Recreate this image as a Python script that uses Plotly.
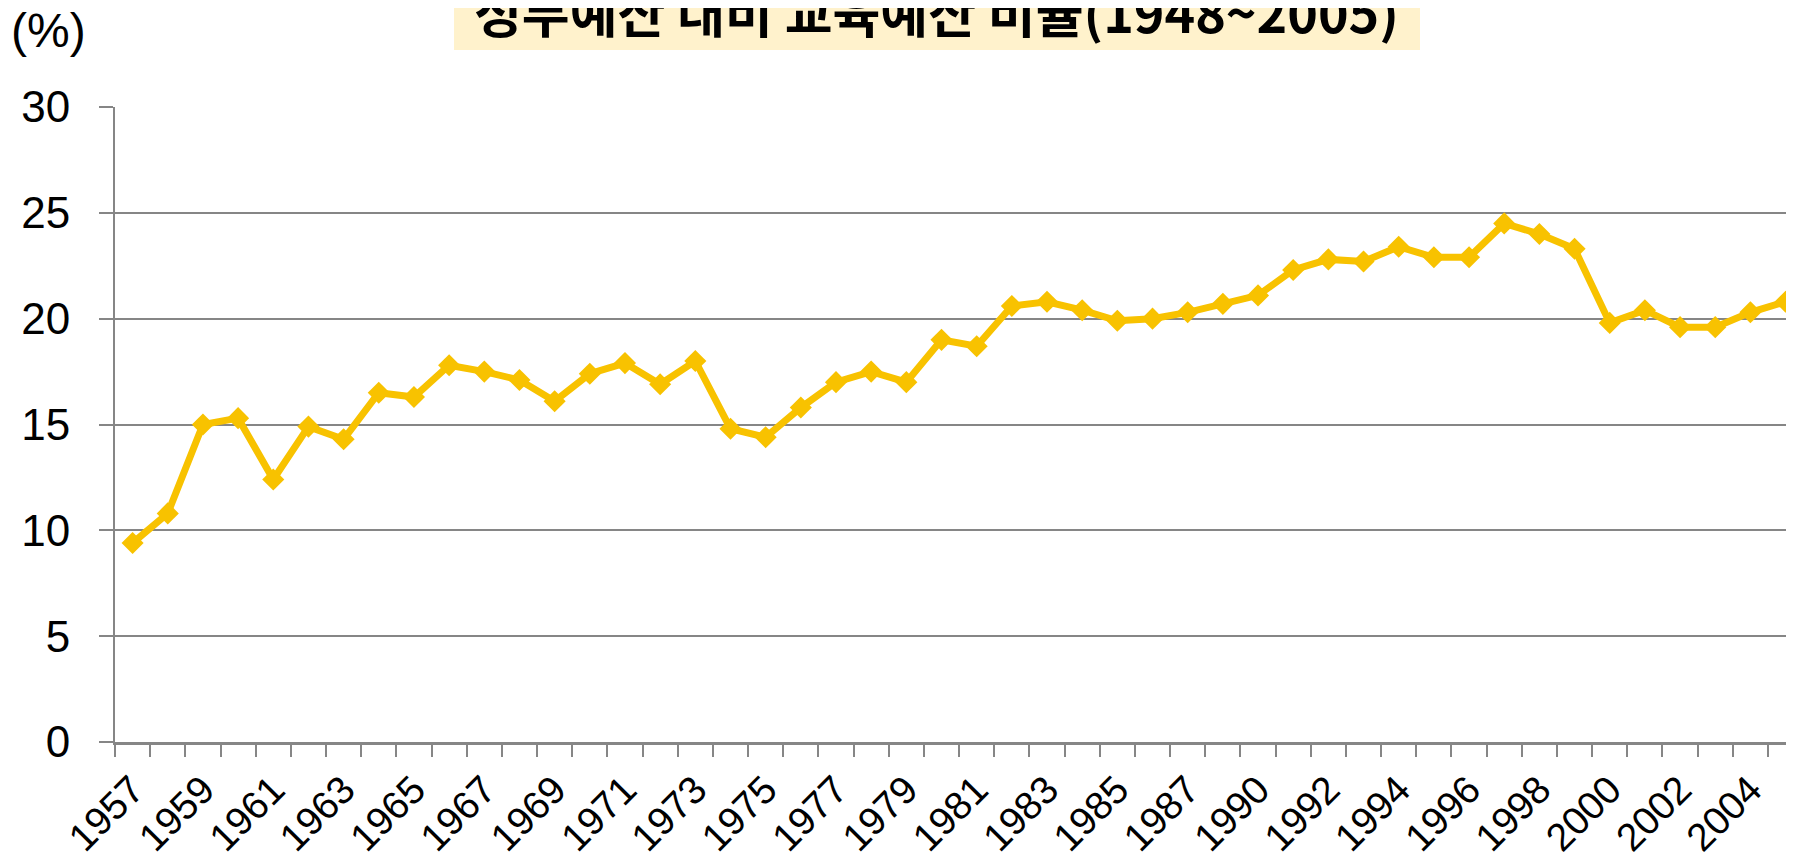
import plotly.graph_objects as go

years = [str(y) for y in range(1957, 1988)] + ["1988"] + [str(y) for y in range(1990, 2006)]
ratio = [9.4, 10.8, 15.0, 15.3, 12.4, 14.9, 14.3, 16.5, 16.3, 17.8,
         17.5, 17.1, 16.1, 17.4, 17.9, 16.9, 18.0, 14.8, 14.4, 15.8,
         17.0, 17.5, 17.0, 19.0, 18.7, 20.6, 20.8, 20.4, 19.9, 20.0,
         20.3, 20.7, 21.1, 22.3, 22.8, 22.7, 23.4, 22.9, 22.9, 24.5,
         24.0, 23.3, 19.8, 20.4, 19.6, 19.6, 20.3, 20.8]
title_text = "정부예산 대비 교육예산 비율(1948~2005)"
y_unit = "(%)"
y_ticks = [0, 5, 10, 15, 20, 25, 30]

OFF = 8  # page body margin
W, H = 1794 - OFF, 859 - OFF
L, R, T = 115 - OFF, 0, 107 - OFF
B = H - (742 - OFF)
PW, PH = W - L - R, H - T - B

def px_x(p):  # p in page pixels
    return (p - OFF - L) / PW

def px_y(p):
    return (H - B - (p - OFF)) / PH

idx = list(range(len(years)))
label_idx = idx[::2]
GRAY = "#868686"
GOLD = "#F8C200"

fig = go.Figure(go.Scatter(
    x=idx, y=ratio, mode="lines+markers",
    line=dict(color=GOLD, width=7),
    marker=dict(symbol="diamond", size=17, color=GOLD),
    showlegend=False,
))

fig.update_layout(
    width=W, height=H, autosize=False,
    margin=dict(l=L, r=R, t=T, b=B, pad=0),
    paper_bgcolor="white", plot_bgcolor="white",
    font=dict(family="Liberation Sans, Arial, sans-serif", color="black"),
    xaxis=dict(
        range=[-0.5, -0.5 + PW / 35.17], automargin=False,
        tickmode="array", tickvals=label_idx, ticktext=[years[i] for i in label_idx],
        tickangle=-45, ticks="", tickfont=dict(size=39),
        showgrid=False, zeroline=False,
        showline=True, linecolor=GRAY, linewidth=3,
        minor=dict(tick0=-0.5, dtick=1, ticks="outside", ticklen=12,
                   tickcolor=GRAY, tickwidth=2, showgrid=False),
        ticklabelstandoff=6,
    ),
    yaxis=dict(
        range=[0, 30], tickmode="array", tickvals=y_ticks, automargin=False,
        ticks="outside", ticklen=14, tickcolor=GRAY, tickwidth=2,
        tickfont=dict(size=44), ticklabelstandoff=20,
        showgrid=True, gridcolor=GRAY, gridwidth=2,
        zeroline=False, showline=True, linecolor=GRAY, linewidth=2,
    ),
    shapes=[dict(type="rect", xref="paper", yref="paper",
                 x0=px_x(454), x1=px_x(1420), y0=px_y(50), y1=px_y(-20),
                 fillcolor="#FFF2CC", line=dict(width=0), layer="above")],
    annotations=[
        dict(text="<b>" + title_text + "</b>", xref="paper", yref="paper",
             x=px_x(936), y=px_y(50), xanchor="center", yanchor="bottom",
             showarrow=False,
             font=dict(family="Noto Sans CJK KR", size=52, color="black")),
        dict(text=y_unit, xref="paper", yref="paper",
             x=px_x(9), y=px_y(31), xanchor="left", yanchor="middle",
             showarrow=False, font=dict(size=48, color="black")),
    ],
)

fig.write_html("out.html")
